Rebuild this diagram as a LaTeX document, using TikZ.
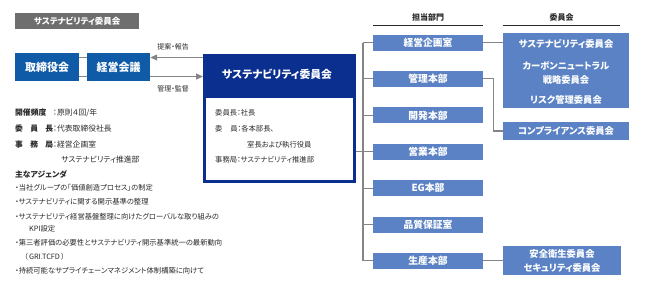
\documentclass[tikz,border=0pt]{standalone}
\usepackage{fontspec}
\setmainfont{Noto Sans CJK JP}[CharacterWidth=AlternateProportional]
\usetikzlibrary{calc,arrows.meta}
\definecolor{graytitle}{HTML}{6E6E6E}
\definecolor{boardblue}{HTML}{0F5BA8}
\definecolor{navyc}{HTML}{0A2F8F}
\definecolor{deptblue}{HTML}{5A82C4}
\definecolor{connc}{HTML}{858585}
\definecolor{txt}{HTML}{2A2A2A}
\newcommand{\fsz}[1]{\fontsize{#1}{#1}\selectfont}
\newcommand{\lblbox}[1]{\makebox[38pt][l]{\bfseries #1}}
\tikzset{
  boardbox/.style={fill=boardblue,text=white,minimum width=64pt,minimum height=28pt,inner sep=0pt,font=\bfseries\fsz{11}},
  deptbox/.style={fill=deptblue,text=white,minimum width=110pt,minimum height=16pt,inner sep=0pt,font=\bfseries\fsz{9.8}},
  cmtbox/.style={fill=deptblue,inner sep=0pt},
  cmttext/.style={text=white,inner sep=0pt,font=\bfseries\fsz{9.3}},
  connline/.style={draw=connc,line width=1.1pt},
  arrowline/.style={draw=connc,line width=1.1pt,-{Triangle[length=7pt,width=6pt]}},
  lefttext/.style={anchor=west,inner sep=0pt,text=txt,font=\fsz{7.8}},
  smalltext/.style={anchor=west,inner sep=0pt,text=txt,font=\fsz{7.3}},
  headtext/.style={inner sep=0pt,text=txt,font=\bfseries\fsz{8}},
}
\begin{document}
\begin{tikzpicture}[x=1pt,y=-1pt]
\useasboundingbox[fill=white] (0,0) rectangle (645,297);

% title
\node[fill=graytitle,text=white,minimum width=124pt,minimum height=16pt,anchor=north west,inner sep=0pt,font=\bfseries\fsz{8.5}] (title) at (15,13) {サステナビリティ委員会};

% board and management
\node[boardbox] (board) at (47,67) {取締役会};
\node[boardbox,minimum width=63pt] (mgmt) at (118.5,67) {経営会議};
\draw[connline] ($(board.east)+(0,-9.5)$) -- ($(mgmt.west)+(0,-9.5)$);
\draw[connline] ($(board.east)+(0,9.5)$) -- ($(mgmt.west)+(0,9.5)$);

% committee
\node[draw=navyc,line width=2.6pt,fill=white,minimum width=150pt,minimum height=126pt,anchor=north west,inner sep=0pt] (comm) at (203,54) {};
\fill[navyc] (comm.north west) rectangle (353,98);
\node[text=white,inner sep=0pt,font=\bfseries\fsz{10.8}] (commtitle) at (277,74) {サステナビリティ委員会};

\coordinate (atop) at ($(mgmt.east)+(0,-9.5)$);
\coordinate (abot) at ($(mgmt.east)+(0,9.5)$);
\draw[arrowline] (comm.west |- atop) -- (atop);
\draw[arrowline] (abot) -- (comm.west |- abot);
\node[inner sep=0pt,text=txt,font=\fsz{7}] (lbl1) at (173,47) {提案・報告};
\node[inner sep=0pt,text=txt,font=\fsz{7}] (lbl2) at (173,88.5) {管理・監督};

% committee inner text
\node[smalltext] (m1) at (215,113) {委員長：社長};
\node[smalltext] (m2) at (215,129) {\makebox[22.5pt][l]{委\hfill 員}：各本部長、};
\node[smalltext] (m3) at (247,145) {室長および執行役員};
\node[smalltext] (m4) at (215,160) {事務局：サステナビリティ推進部};

% left info
\node[lefttext] (i1) at (15,113) {\lblbox{開催頻度}：原則４回/年};
\node[lefttext] (i2) at (15,129) {\lblbox{委\hfill 員\hfill 長}：代表取締役社長};
\node[lefttext] (i3) at (15,145) {\lblbox{事\hfill 務\hfill 局}：経営企画室};
\node[lefttext] (i4) at (61,159.5) {サステナビリティ推進部};
\node[lefttext,font=\bfseries\fsz{7.8}] (i5) at (15,174) {主なアジェンダ};
\node[smalltext] (a1) at (15,188) {・当社グループの「価値創造プロセス」の制定};
\node[smalltext] (a2) at (15,202) {・サステナビリティに関する開示基準の整理};
\node[smalltext] (a3) at (15,216.5) {・サステナビリティ経営基盤整理に向けたグローバルな取り組みの};
\node[smalltext] (a4) at (29,229) {KPI設定};
\node[smalltext] (a5) at (15,243) {・第三者評価の必要性とサステナビリティ開示基準統一の最新動向};
\node[smalltext] (a6) at (24,257) {（\,GRI.TCFD\,）};
\node[smalltext] (a7) at (15,271) {・持続可能なサプライチェーンマネジメント体制構築に向けて};

% headers
\node[headtext] (h1) at (428,17) {担当部門};
\node[headtext] (h2) at (561.5,17) {委員会};
\coordinate (u1a) at (373,25); \coordinate (u1b) at (483,25);
\coordinate (u2a) at (503,25); \coordinate (u2b) at (620,25);
\draw[draw=txt,line width=0.8pt] (u1a) -- (u1b);
\draw[draw=txt,line width=0.8pt] (u2a) -- (u2b);

% departments
\node[deptbox] (d1) at (428,42.5) {経営企画室};
\node[deptbox] (d2) at (428,78.9) {管理本部};
\node[deptbox] (d3) at (428,115.3) {開発本部};
\node[deptbox] (d4) at (428,151.7) {営業本部};
\node[deptbox] (d5) at (428,188.1) {EG本部};
\node[deptbox] (d6) at (428,224.5) {品質保証室};
\node[deptbox] (d7) at (428,260.9) {生産本部};

\coordinate (tx) at (363,0);
\draw[connline] (tx |- d1.west) -- (tx |- d7.west);
\foreach \d in {d1,d2,d3,d5,d6,d7} {\draw[connline] (tx |- \d.west) -- (\d.west);}
\draw[connline] (comm.east |- d4.west) -- (d4.west);

% committees
\node[cmtbox,minimum width=126pt,minimum height=75pt] (big) at (566,70.5) {};
\node[cmttext] (c1) at (566,43.5) {サステナビリティ委員会};
\node[cmttext] (c2) at (566,65.5) {カーボンニュートラル};
\node[cmttext] (c3) at (566,79.5) {戦略委員会};
\node[cmttext] (c4) at (566,100) {リスク管理委員会};
\node[cmtbox,minimum width=126pt,minimum height=18pt] (comp) at (566,131) {};
\node[cmttext] (c5) at (566,131) {コンプライアンス委員会};
\node[cmtbox,minimum width=118pt,minimum height=29pt] (safe) at (562,260.5) {};
\node[cmttext] (c6) at (562,253.5) {安全衛生委員会};
\node[cmttext] (c7) at (562,268) {セキュリティ委員会};

\draw[connline] (d1.east) -- (big.west |- d1.east);
\draw[connline] (d2.east) -- ($(d2.east)+(10,0)$) |- (comp.west);
\draw[connline] (d7.east) -- (safe.west |- d7.east);
\end{tikzpicture}
\end{document}
